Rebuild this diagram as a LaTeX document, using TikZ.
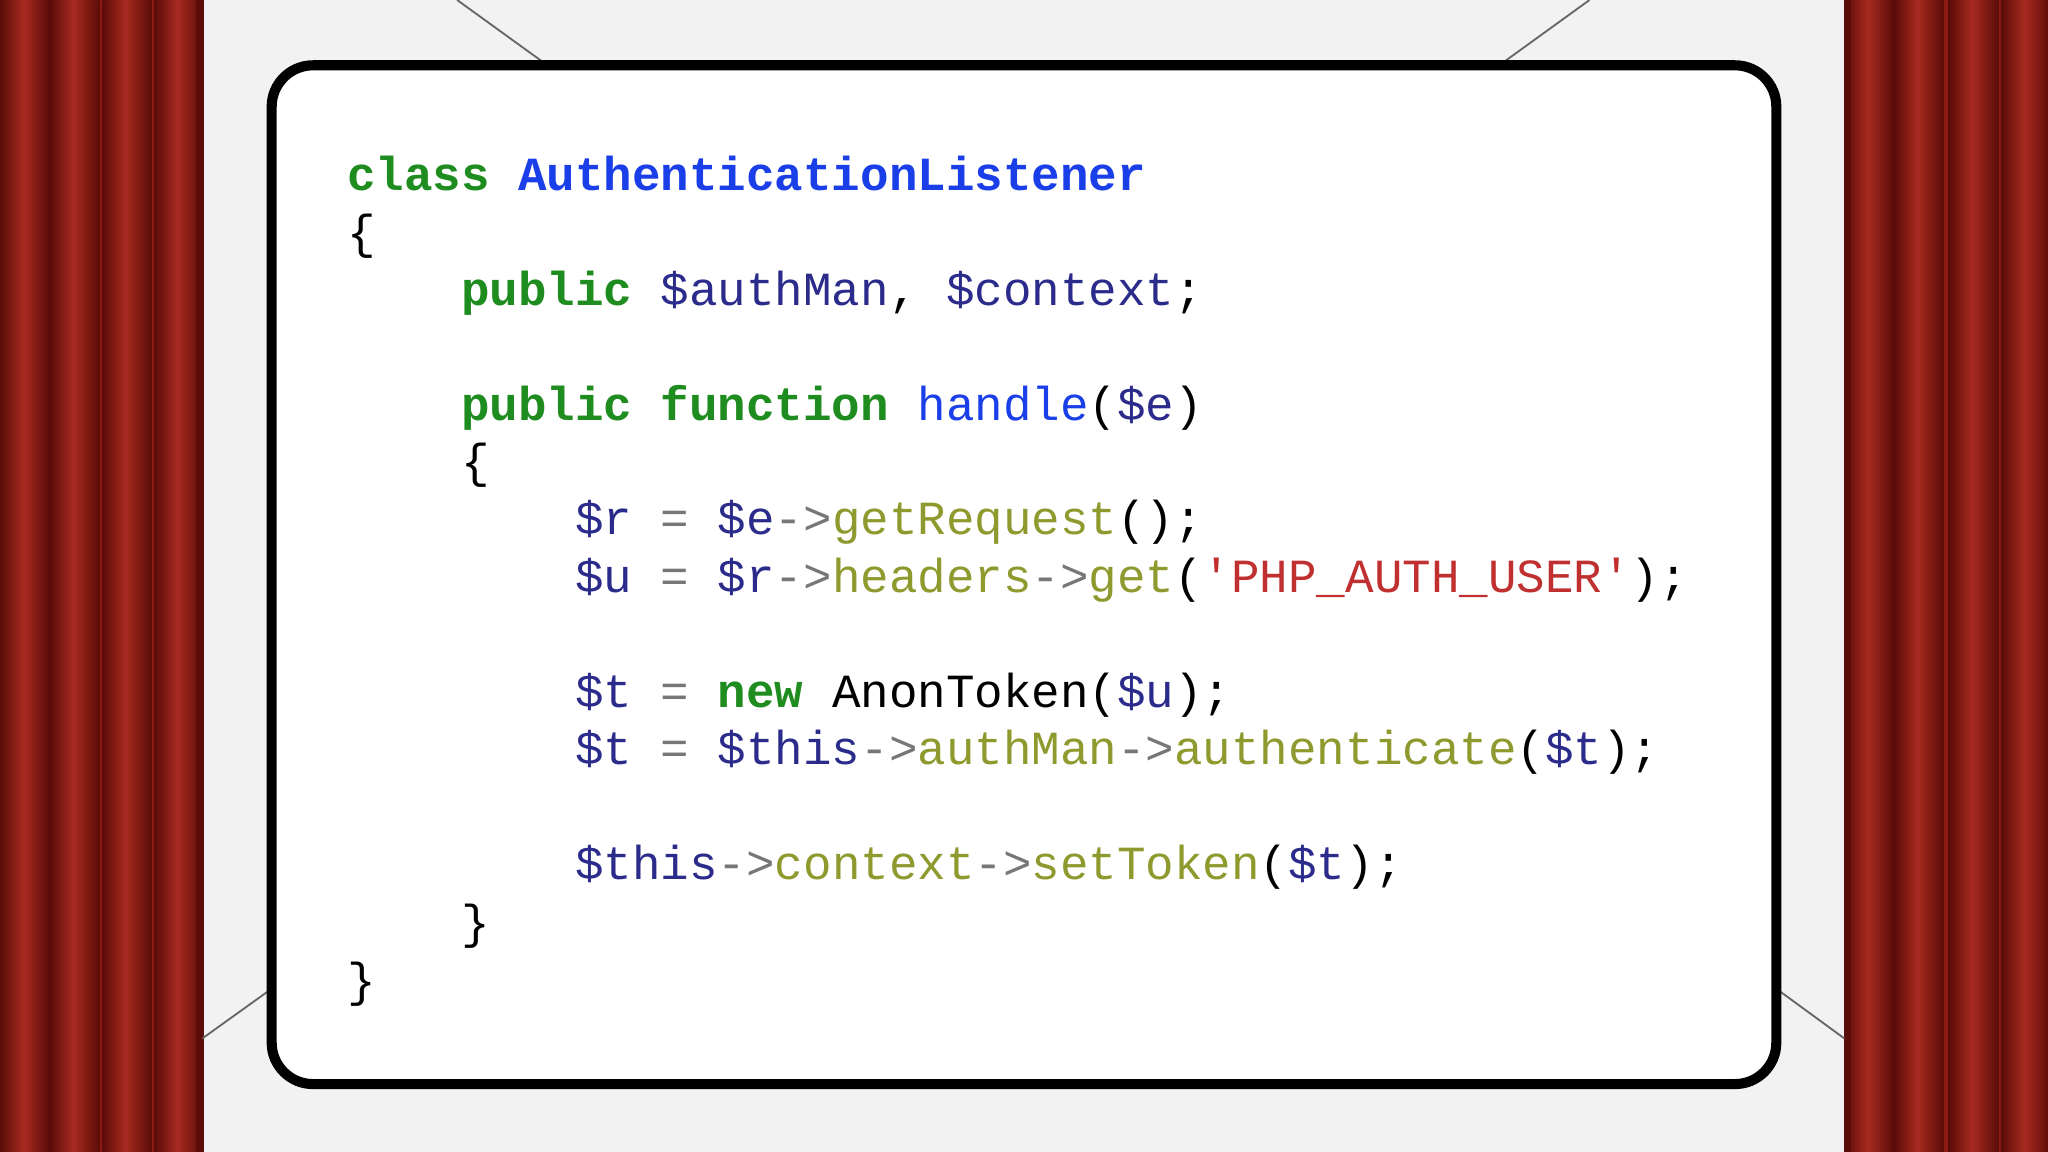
\documentclass[tikz,border=0pt]{standalone}
\usepackage{fontspec}
\setmonofont{Liberation Mono}
\definecolor{kw}{HTML}{1E8C1E}
\definecolor{nm}{HTML}{1A3EE8}
\definecolor{vr}{HTML}{2B2B8C}
\definecolor{mt}{HTML}{8E9A2E}
\definecolor{st}{HTML}{C03030}
\definecolor{op}{HTML}{777777}
\definecolor{cur}{HTML}{8E1A14}
\definecolor{curd}{HTML}{5A0C08}
\definecolor{curl}{HTML}{A82A20}
\newcommand{\K}[1]{\textcolor{kw}{\bfseries #1}}
\newcommand{\N}[1]{\textcolor{nm}{#1}}
\newcommand{\V}[1]{\textcolor{vr}{#1}}
\newcommand{\M}[1]{\textcolor{mt}{#1}}
\newcommand{\Sg}[1]{\textcolor{st}{#1}}
\newcommand{\Op}[1]{\textcolor{op}{#1}}
\begin{document}
\begin{tikzpicture}[x=0.01cm,y=-0.01cm,
  code/.style={anchor=mid west,inner sep=0pt,font=\ttfamily\fontsize{10.35pt}{12pt}\selectfont,text=black}]
\useasboundingbox (0,0) rectangle (1568,882);
\fill[black!5] (0,0) rectangle (1568,882);
% curtains
\foreach \x/\w in {0/155,1412/156}{
  \fill[cur] (\x,0) rectangle ++(\w,882);
}
\foreach \x in {0,38,78,118,1412,1450,1492,1532}{
  \shade[left color=curd,right color=curl] (\x,0) rectangle ++(18,882);
  \shade[left color=curl,right color=curd] (\x+18,0) rectangle ++(20,882);
}
\fill[curd] (1412,0) rectangle ++(5,882);
\fill[curd] (150,0) rectangle ++(5,882);
% diagonal lines
\draw[black!60,line width=0.4pt] (350,0) -- (415,47);
\draw[black!60,line width=0.4pt] (1217,0) -- (1152,47);
\draw[black!60,line width=0.4pt] (155,795) -- (208,757);
\draw[black!60,line width=0.4pt] (1412,795) -- (1360,757);
% box
\draw[line width=2.2pt,fill=white,rounded corners=9pt] (208,50) rectangle (1360,830) ;
\node[code] (l1) at (265,138) {\K{class} \N{\bfseries AuthenticationListener}};
\node[code] (l2) at (265,183) {\{};
\node[code] (l3) at (265,226) {\phantom{xxxx}\K{public} \V{\$authMan}, \V{\$context};};
\node[code] (l4) at (265,314) {\phantom{xxxx}\K{public} \K{function} \N{handle}(\V{\$e})};
\node[code] (l5) at (265,358) {\phantom{xxxx}\{};
\node[code] (l6) at (265,402) {\phantom{xxxxxxxx}\V{\$r} \Op{=} \V{\$e}\Op{-{}>}\M{getRequest}();};
\node[code] (l7) at (265,446) {\phantom{xxxxxxxx}\V{\$u} \Op{=} \V{\$r}\Op{-{}>}\M{headers}\Op{-{}>}\M{get}(\Sg{\textquotesingle PHP\_AUTH\_USER\textquotesingle});};
\node[code] (l8) at (265,534) {\phantom{xxxxxxxx}\V{\$t} \Op{=} \K{new} AnonToken(\V{\$u});};
\node[code] (l9) at (265,578) {\phantom{xxxxxxxx}\V{\$t} \Op{=} \V{\$this}\Op{-{}>}\M{authMan}\Op{-{}>}\M{authenticate}(\V{\$t});};
\node[code] (l10) at (265,666) {\phantom{xxxxxxxx}\V{\$this}\Op{-{}>}\M{context}\Op{-{}>}\M{setToken}(\V{\$t});};
\node[code] (l11) at (265,711) {\phantom{xxxx}\}};
\node[code] (l12) at (265,755) {\}};
\end{tikzpicture}
\end{document}
